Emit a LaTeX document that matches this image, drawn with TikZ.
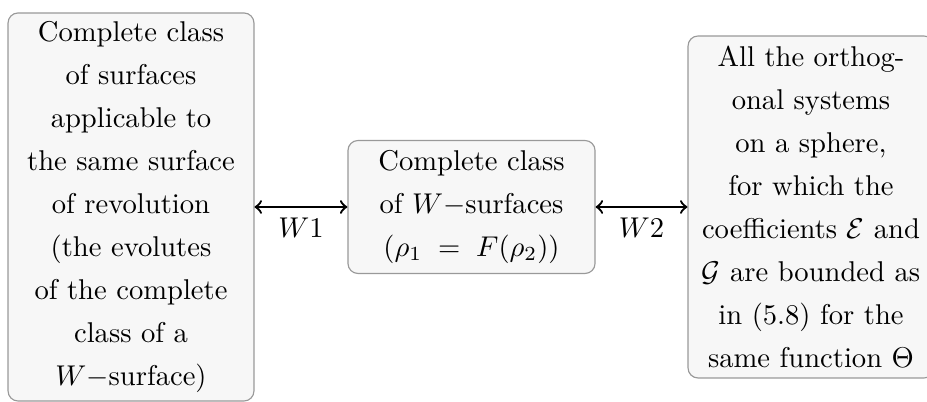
\documentclass[tikz,border=0pt]{standalone}
\begin{document}
\begin{tikzpicture}[x=0.3497pt,y=-0.3497pt,
  box/.style={draw=black!40, fill=black!3, rounded corners=3.5pt, align=center,
    inner sep=0pt, font={\fontsize{10pt}{15pt}\selectfont}},
  link/.style={<->, thick, black}]
\useasboundingbox (0,0) rectangle (927,402);
\node[box, minimum width=86pt, minimum height=135.7pt] (L) at (131,207)
  {Complete class\\of surfaces\\applicable to\\the same surface\\of revolution\\(the evolutes\\of the complete\\class of a\\$W-$surface)};
\node[box, minimum width=86.4pt, minimum height=46.5pt] (M) at (471.5,207)
  {Complete class\\of $W-$surfaces\\$(\rho_1\;=\;F(\rho_2))$};
\node[box, minimum width=86pt, minimum height=119.6pt] (R) at (811,207)
  {All the orthog-\\onal systems\\on a sphere,\\for which the\\coefficients $\mathcal{E}$ and\\$\mathcal{G}$ are bounded as\\in (5.8) for the\\same function $\Theta$};
\draw[link] (L.east) -- (M.west) node[midway, below=0pt] {$W1$};
\draw[link] (M.east) -- (R.west) node[midway, below=0pt] {$W2$};
\end{tikzpicture}
\end{document}
